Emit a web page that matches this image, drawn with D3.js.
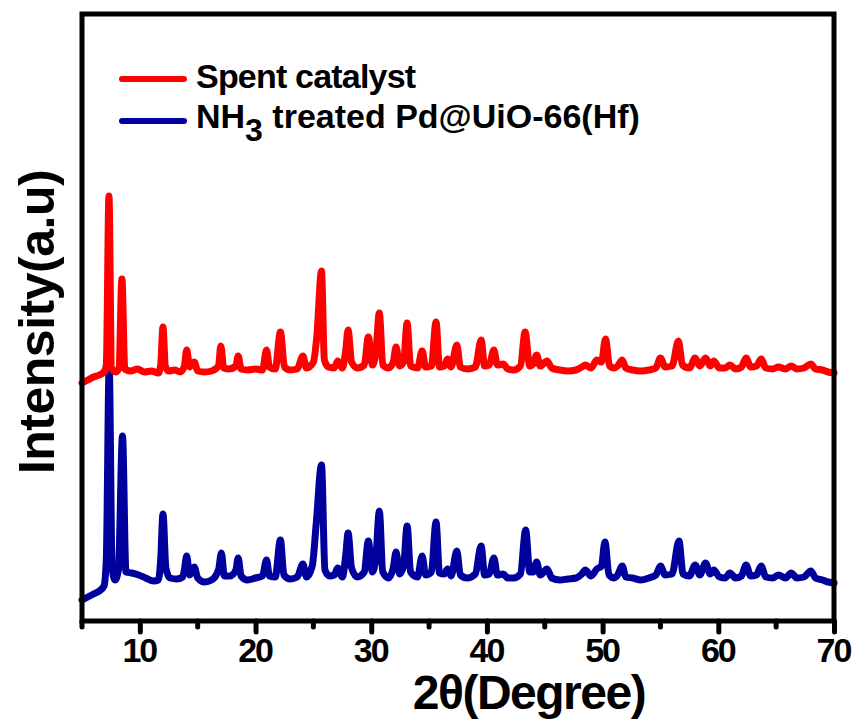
<!DOCTYPE html>
<html>
<head>
<meta charset="utf-8">
<script src="https://cdn.jsdelivr.net/npm/d3@7"></script>
<style>
  html, body { margin: 0; padding: 0; background: #fff; }
  svg { display: block; }
  text { font-family: "Liberation Sans", Arial, sans-serif; font-weight: bold; fill: #000; }
</style>
</head>
<body>
<svg id="chart" width="856" height="719"></svg>
<script>
// XRD patterns: 2θ (degree) and intensity (a.u., offset stacked)
const spentTheta = [5.0,5.5,6.0,6.5,6.9,7.1,7.33,7.55,7.9,8.2,8.45,8.7,9.2,9.8,10.4,11.0,11.6,11.8,12.0,12.2,12.5,13.0,13.5,13.85,14.05,14.3,14.7,15.0,15.6,16.2,16.8,17.0,17.25,17.7,18.3,18.5,18.75,19.3,20.0,20.6,20.95,21.2,21.7,22.15,22.5,23.0,23.6,24.1,24.4,25.0,25.3,25.7,25.95,26.3,26.8,27.1,27.5,27.8,28.0,28.3,28.8,29.4,29.75,30.1,30.4,30.7,31.0,31.5,31.9,32.15,32.45,32.8,33.1,33.4,34.0,34.4,34.7,35.2,35.6,35.9,36.3,36.6,36.9,37.4,37.7,38.3,39.0,39.5,39.8,40.2,40.6,40.9,41.4,41.8,42.3,42.9,43.3,43.7,44.0,44.3,44.6,45.2,45.6,46.3,47.0,47.7,48.2,48.5,49.0,49.5,49.9,50.25,50.6,51.0,51.3,51.7,52.0,52.6,53.3,54.0,54.6,55.0,55.4,56.0,56.55,56.9,57.5,58.0,58.4,58.9,59.3,59.6,60.1,60.6,61.0,61.5,62.0,62.4,62.8,63.3,63.7,64.1,64.7,65.2,65.8,66.3,66.8,67.4,68.0,68.4,69.0,69.5,70.0];
const spentIntensity = [238,241,244,246,249,256,425,253,249,253,342,252,250,252,249,250,248,256,294,255,250,251,249,255,271,254,259,250,249,250,255,275,253,252,255,265,252,251,252,251,271,254,252,289,254,251,252,265,253,259,285,350,261,254,253,260,253,271,291,259,253,256,284,256,269,308,256,253,259,274,255,259,298,255,253,270,254,255,299,254,255,262,254,276,254,252,254,281,255,256,271,256,257,252,251,255,289,255,257,266,255,260,253,251,250,251,254,256,253,261,259,282,255,253,255,261,253,251,250,251,253,263,254,255,280,256,253,263,255,263,255,260,253,253,256,252,254,263,254,255,262,253,252,254,252,255,252,253,257,252,251,249,248];

const treatedTheta = [5.0,5.5,6.0,6.5,6.9,7.1,7.35,7.6,7.85,8.15,8.5,8.8,9.3,9.9,10.5,11.2,11.6,11.8,12.0,12.25,12.6,13.2,13.7,13.85,14.05,14.3,14.7,15.0,15.6,16.2,16.8,17.05,17.3,17.8,18.3,18.5,18.75,19.3,20.0,20.6,20.95,21.2,21.7,22.15,22.45,23.0,23.6,24.1,24.4,24.9,25.25,25.7,26.0,26.4,26.8,27.1,27.5,27.8,28.0,28.3,28.8,29.4,29.75,30.1,30.4,30.7,31.0,31.5,31.9,32.15,32.45,32.8,33.1,33.4,34.0,34.4,34.7,35.2,35.6,35.9,36.3,36.6,36.9,37.4,37.7,38.3,39.0,39.5,39.8,40.2,40.6,40.9,41.4,41.8,42.3,42.9,43.35,43.7,44.0,44.3,44.6,45.2,45.6,46.3,47.0,47.7,48.2,48.5,49.0,49.5,49.9,50.2,50.55,51.0,51.3,51.7,52.0,52.6,53.3,54.0,54.6,55.0,55.4,56.0,56.6,56.95,57.5,58.0,58.4,58.9,59.3,59.6,60.1,60.6,61.0,61.5,62.0,62.4,62.8,63.3,63.7,64.1,64.7,65.2,65.8,66.3,66.8,67.4,68.0,68.4,69.0,69.5,70.0];
const treatedIntensity = [21,24,27,30,35,61,255,54,41,51,185,49,48,46,43,40,41,61,107,53,43,42,44,51,65,46,54,43,39,41,51,68,45,45,51,63,45,41,43,45,61,45,44,81,46,42,44,57,44,55,98,156,51,45,46,53,44,66,88,53,44,49,80,49,63,110,49,43,53,69,47,55,95,49,44,65,46,49,99,48,47,52,45,70,46,43,47,75,46,47,63,46,47,43,43,47,91,49,49,59,46,52,43,41,42,43,47,51,45,52,55,79,46,43,46,55,44,43,41,43,46,55,46,47,80,47,45,56,46,58,47,51,44,43,48,43,45,56,45,46,55,44,43,46,43,48,43,44,50,43,41,39,38];

const seriesNames = ["Spent catalyst", "NH3 treated Pd@UiO-66(Hf)"];
const seriesColors = ["#ff0000", "#00009c"];

const xTicks = [10, 20, 30, 40, 50, 60, 70];
const xMinorTicks = [5, 15, 25, 35, 45, 55, 65];

const svg = d3.select("#chart");
const margin = { left: 82, right: 22, top: 14, bottom: 98 };
const W = 856, H = 719;
const x = d3.scaleLinear().domain([5, 70]).range([margin.left, W - margin.right]);
const y = d3.scaleLinear().domain([0, 607]).range([H - margin.bottom, margin.top]);

const line = d3.line()
  .x(d => x(d[0]))
  .y(d => y(d[1]))
  .curve(d3.curveMonotoneX);

const series = [
  d3.zip(spentTheta, spentIntensity),
  d3.zip(treatedTheta, treatedIntensity)
];

// draw lower pattern first so the upper one sits on top where they cross
[1, 0].forEach(i => {
  svg.append("path")
    .datum(series[i])
    .attr("fill", "none")
    .attr("stroke", seriesColors[i])
    .attr("stroke-width", 7)
    .attr("stroke-linejoin", "round")
    .attr("stroke-linecap", "round")
    .attr("d", line);
});

// frame
const x0 = x(5), x1 = x(70), yTop = y(607), yBot = y(0);
svg.append("rect")
  .attr("x", x0).attr("y", yTop)
  .attr("width", x1 - x0).attr("height", yBot - yTop)
  .attr("fill", "none").attr("stroke", "#000").attr("stroke-width", 5);

// bottom axis
const axis = svg.append("g").attr("transform", `translate(0,${yBot})`)
  .call(d3.axisBottom(x).tickValues(xTicks).tickSize(11).tickSizeOuter(0).tickPadding(6));
axis.select(".domain").remove();
axis.selectAll(".tick line").attr("stroke", "#000").attr("stroke-width", 5).attr("stroke-linecap", "round");
axis.selectAll(".tick text")
  .attr("font-size", 34)
  .attr("letter-spacing", "-2px")
  .attr("dx", "-1px")
  .attr("font-family", '"Liberation Sans", Arial, sans-serif')
  .attr("font-weight", "bold")
  .attr("fill", "#000");

svg.append("g").selectAll("line").data(xMinorTicks).join("line")
  .attr("x1", d => x(d)).attr("x2", d => x(d))
  .attr("y1", yBot).attr("y2", yBot + 6)
  .attr("stroke", "#000").attr("stroke-width", 5).attr("stroke-linecap", "round");

// axis titles
svg.append("text")
  .attr("x", 529).attr("y", 709)
  .attr("text-anchor", "middle")
  .attr("font-size", 48)
  .attr("letter-spacing", "-1.5px")
  .text("2θ(Degree)");

svg.append("text")
  .attr("transform", "translate(54,322) rotate(-90)")
  .attr("text-anchor", "middle")
  .attr("font-size", 50)
  .attr("letter-spacing", "-0.5px")
  .text("Intensity(a.u)");

// legend
const legend = svg.append("g");
const legendRows = [79, 121];
legendRows.forEach((ly, i) => {
  legend.append("line")
    .attr("x1", 122).attr("x2", 184)
    .attr("y1", ly).attr("y2", ly)
    .attr("stroke", seriesColors[i]).attr("stroke-width", 6).attr("stroke-linecap", "round");
});
legend.append("text")
  .attr("x", 196).attr("y", 88)
  .attr("font-size", 34).attr("letter-spacing", "-0.8px")
  .text(seriesNames[0]);
const t2 = legend.append("text")
  .attr("x", 196).attr("y", 128)
  .attr("font-size", 34).attr("letter-spacing", "0px");
t2.append("tspan").text("NH");
t2.append("tspan").attr("font-size", 32).attr("dy", 13).text("3");
t2.append("tspan").attr("dy", -13).text(" treated Pd@UiO-66(Hf)");
</script>
</body>
</html>
